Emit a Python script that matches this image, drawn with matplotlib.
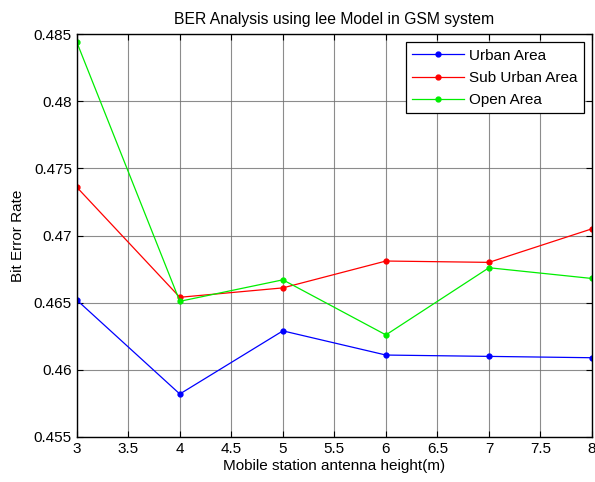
import numpy as np
import matplotlib.pyplot as plt

plt.rcParams['font.family'] = ['Liberation Sans', 'DejaVu Sans']

height = [3, 4, 5, 6, 7, 8]
urban = [0.4652, 0.4582, 0.4629, 0.4611, 0.4610, 0.4609]
suburban = [0.4736, 0.4654, 0.4661, 0.4681, 0.4680, 0.4705]
open_area = [0.4844, 0.4651, 0.4667, 0.4626, 0.4676, 0.4668]

fig = plt.figure(figsize=(5.95, 4.82), dpi=100)
ax = fig.add_axes([0.129, 0.0934, 0.866, 0.836])

ax.plot(height, urban, '.-', color='blue', lw=0.9, ms=7, label='Urban Area')
ax.plot(height, suburban, '.-', color='red', lw=0.9, ms=7, label='Sub Urban Area')
ax.plot(height, open_area, '.-', color='#00ee00', lw=0.9, ms=7, label='Open Area')

ax.set_xlim(3, 8)
ax.set_ylim(0.455, 0.485)
ax.set_xticks(np.arange(3, 8.01, 0.5))
ax.set_xticklabels(['3', '3.5', '4', '4.5', '5', '5.5', '6', '6.5', '7', '7.5', '8'])
ax.set_yticks(np.arange(0.455, 0.4851, 0.005))
ax.set_yticklabels(['0.455', '0.46', '0.465', '0.47', '0.475', '0.48', '0.485'])
ax.tick_params(direction='in', top=True, right=True, labelsize=11, length=4, width=0.8)
ax.grid(True, color='#707070', lw=0.8, alpha=0.8)
for s in ax.spines.values():
    s.set_linewidth(1.0)

ax.set_title('BER Analysis using lee Model in GSM system', fontsize=11.3, pad=7)
ax.set_xlabel('Mobile station antenna height(m)', fontsize=11, labelpad=2)
ax.set_ylabel('Bit Error Rate', fontsize=11, labelpad=6)

leg = ax.legend(loc='upper right', fontsize=11, fancybox=False, framealpha=1,
                edgecolor='black', borderaxespad=0.55, handlelength=3.4,
                handletextpad=0.3, labelspacing=0.55)
leg.get_frame().set_linewidth(0.9)

fig.savefig('out.png', dpi=100)
